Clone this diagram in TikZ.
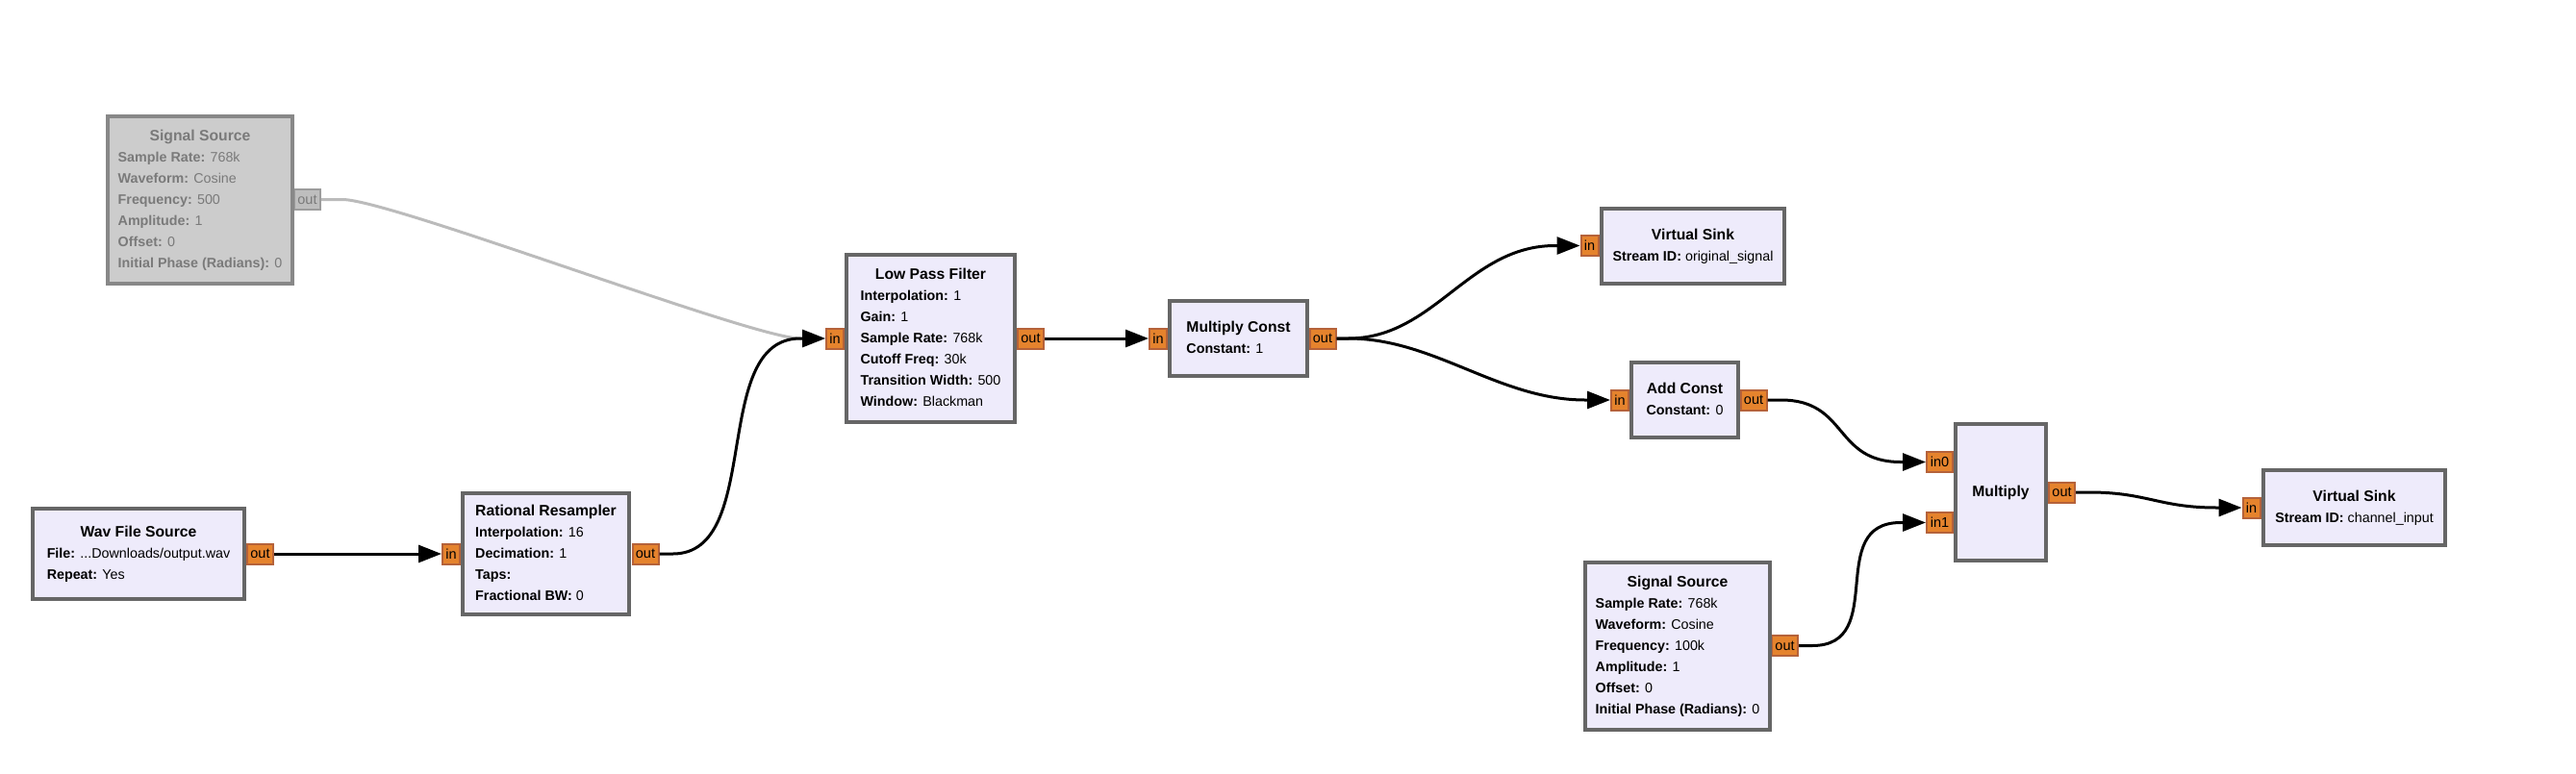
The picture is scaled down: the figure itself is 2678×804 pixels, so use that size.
\documentclass[tikz,border=0pt]{standalone}
\usepackage{fontspec}
\setmainfont{Liberation Sans}
\usetikzlibrary{arrows.meta,calc}
\definecolor{blkfill}{HTML}{EEEBFB}
\definecolor{blkdraw}{HTML}{666666}
\definecolor{gfill}{HTML}{CCCCCC}
\definecolor{gdraw}{HTML}{888888}
\definecolor{gtext}{HTML}{7A7A7A}
\definecolor{pfill}{HTML}{E5832D}
\definecolor{pdraw}{HTML}{B5623A}
\definecolor{gpfill}{HTML}{BEBEBE}
\definecolor{gpdraw}{HTML}{9C9C9C}
\definecolor{gline}{HTML}{BBBBBB}
\newcommand{\blktitle}[1]{\multicolumn{1}{@{}c@{}}{\fontsize{15.7}{22}\selectfont\bfseries #1}}
\newcommand{\blkparam}[2]{\textbf{#1:} #2}
\newcommand{\blkbody}[1]{{\fontsize{14.3}{22}\selectfont\begin{tabular}{@{}l@{}}#1\end{tabular}}}
\tikzset{
  blockbox/.style={draw=blkdraw, fill=blkfill, line width=4pt, inner sep=0pt, rectangle},
  gblockbox/.style={blockbox, draw=gdraw, fill=gfill, text=gtext},
  portbox/.style={draw=pdraw, fill=pfill, line width=2pt, inner sep=0pt, minimum height=21pt,
    font=\fontsize{14.5}{16}\selectfont, text=black},
  gportbox/.style={portbox, draw=gpdraw, fill=gpfill, text=gtext},
  inport/.style={portbox, minimum width=18pt},
  outport/.style={portbox, minimum width=27pt},
  conn/.style={line width=3pt, draw=black, -{Triangle[length=24pt,width=18pt]}},
  gconn/.style={conn, draw=gline}
}
\begin{document}
\begin{tikzpicture}[x=1pt,y=-1pt]
\useasboundingbox (0,0) rectangle (2678,804);
\fill[white] (0,0) rectangle (2678,804);

% ports
\node[gportbox, minimum width=27pt] (s1out) at (319.5,207.5) {out};
\node[outport] (wavout) at (270.5,576) {out};
\node[inport] (rrin) at (469,576) {in};
\node[outport] (rrout) at (671,576) {out};
\node[inport] (lpfin) at (868,352) {in};
\node[outport] (lpfout) at (1071.5,352) {out};
\node[inport] (mcin) at (1204,352) {in};
\node[outport] (mcout) at (1375,352) {out};
\node[inport] (vs1in) at (1652.5,255.5) {in};
\node[inport] (acin) at (1684,416) {in};
\node[outport] (acout) at (1823,416) {out};
\node[outport] (mulin0) at (2016.5,480.5) {in0};
\node[outport] (mulin1) at (2016.5,543.5) {in1};
\node[outport] (mulout) at (2143.5,512) {out};
\node[inport] (vs2in) at (2340.5,528) {in};
\node[outport] (s2out) at (1855.5,671.5) {out};

% blocks
\node[gblockbox, minimum width=192pt, minimum height=174pt] (sig1) at (208,208)
  {\blkbody{\blktitle{Signal Source}\\ \blkparam{Sample Rate}{768k}\\ \blkparam{Waveform}{Cosine}\\
   \blkparam{Frequency}{500}\\ \blkparam{Amplitude}{1}\\ \blkparam{Offset}{0}\\ \blkparam{Initial Phase (Radians)}{0}}};
\node[blockbox, minimum width=220pt, minimum height=94pt] (wav) at (144,576)
  {\blkbody{\blktitle{Wav File Source}\\ \blkparam{File}{...Downloads/output.wav}\\ \blkparam{Repeat}{Yes}}};
\node[blockbox, minimum width=173pt, minimum height=126pt] (rr) at (567.5,576)
  {\blkbody{\blktitle{Rational Resampler}\\ \blkparam{Interpolation}{16}\\ \blkparam{Decimation}{1}\\
   \blkparam{Taps}{}\\ \blkparam{Fractional BW}{0}}};
\node[blockbox, minimum width=175pt, minimum height=174pt] (lpf) at (967.5,352)
  {\blkbody{\blktitle{Low Pass Filter}\\ \blkparam{Interpolation}{1}\\ \blkparam{Gain}{1}\\
   \blkparam{Sample Rate}{768k}\\ \blkparam{Cutoff Freq}{30k}\\ \blkparam{Transition Width}{500}\\ \blkparam{Window}{Blackman}}};
\node[blockbox, minimum width=143pt, minimum height=78pt] (mc) at (1287.5,352)
  {\blkbody{\blktitle{Multiply Const}\\ \blkparam{Constant}{1}}};
\node[blockbox, minimum width=190pt, minimum height=78pt] (vs1) at (1760,256)
  {\blkbody{\blktitle{Virtual Sink}\\ \blkparam{Stream ID}{original\_signal}}};
\node[blockbox, minimum width=111pt, minimum height=78pt] (ac) at (1751.5,416)
  {\blkbody{\blktitle{Add Const}\\ \blkparam{Constant}{0}}};
\node[blockbox, minimum width=94pt, minimum height=142pt] (mul) at (2080,512)
  {\blkbody{\blktitle{Multiply}}};
\node[blockbox, minimum width=189pt, minimum height=78pt] (vs2) at (2447.5,528)
  {\blkbody{\blktitle{Virtual Sink}\\ \blkparam{Stream ID}{channel\_input}}};
\node[blockbox, minimum width=192pt, minimum height=174pt] (sig2) at (1744,672)
  {\blkbody{\blktitle{Signal Source}\\ \blkparam{Sample Rate}{768k}\\ \blkparam{Waveform}{Cosine}\\
   \blkparam{Frequency}{100k}\\ \blkparam{Amplitude}{1}\\ \blkparam{Offset}{0}\\ \blkparam{Initial Phase (Radians)}{0}}};

% connections
\draw[gconn] (s1out.east) -- ++(22,0) .. controls +(50,0) and +(-50,0) .. ($(lpfin.west)+(-26,0)$) -- (lpfin.west);
\draw[conn] (wavout.east) -- (rrin.west);
\draw[conn] (rrout.east) -- ++(14,0) .. controls +(95,0) and +(-95,0) .. ($(lpfin.west)+(-26,0)$) -- (lpfin.west);
\draw[conn] (lpfout.east) -- (mcin.west);
\draw[conn] (mcout.east) -- ++(12,0) .. controls +(90,0) and +(-90,0) .. ($(vs1in.west)+(-26,0)$) -- (vs1in.west);
\draw[conn] (mcout.east) -- ++(12,0) .. controls +(90,0) and +(-90,0) .. ($(acin.west)+(-26,0)$) -- (acin.west);
\draw[conn] (acout.east) -- ++(14,0) .. controls +(70,0) and +(-70,0) .. ($(mulin0.west)+(-26,0)$) -- (mulin0.west);
\draw[conn] (s2out.east) -- ++(14,0) .. controls +(80,0) and +(-80,0) .. ($(mulin1.west)+(-26,0)$) -- (mulin1.west);
\draw[conn] (mulout.east) -- ++(14,0) .. controls +(60,0) and +(-60,0) .. ($(vs2in.west)+(-26,0)$) -- (vs2in.west);
\end{tikzpicture}
\end{document}
